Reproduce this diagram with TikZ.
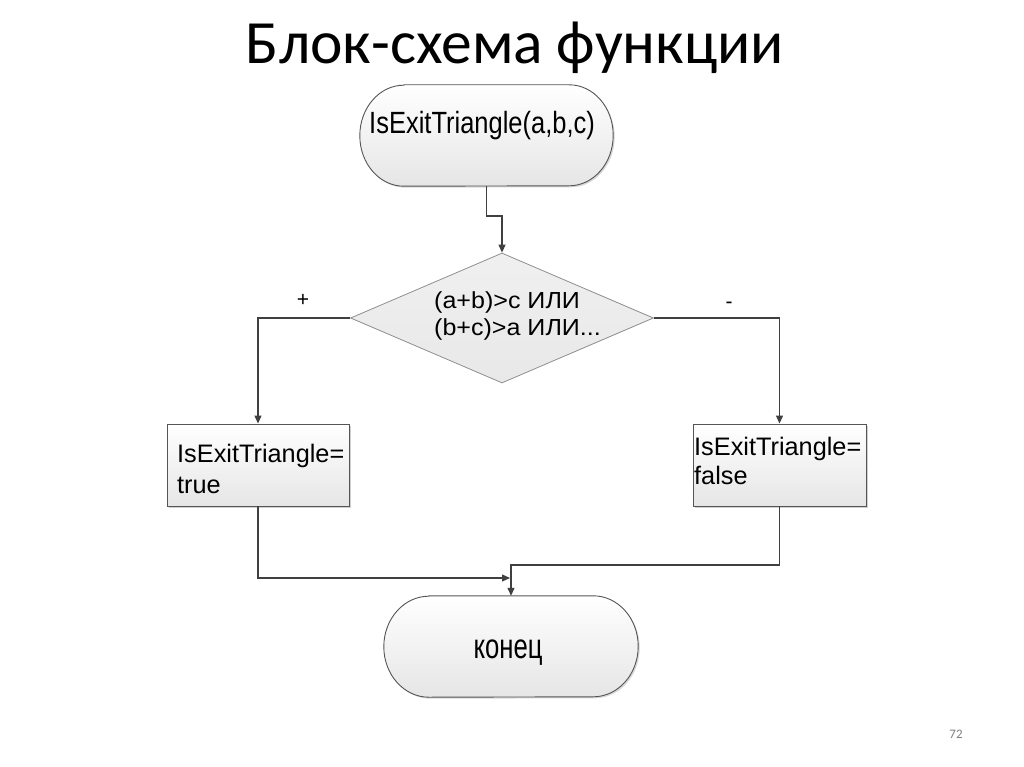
\documentclass[tikz,border=0pt]{standalone}
\usepackage{fontspec}
\setmainfont{Liberation Sans}
\newfontfamily\titlefont{Carlito}
\newfontfamily\startfont[FakeStretch=0.83]{Liberation Sans}
\newfontfamily\boxfont{Liberation Sans}
\newfontfamily\decfont[FakeStretch=1.08]{Liberation Sans}
\newfontfamily\endfont[FakeStretch=0.74]{Liberation Sans}
\usetikzlibrary{shapes.geometric,arrows.meta,shadows,calc}
\definecolor{linec}{HTML}{404040}
\definecolor{edgec}{HTML}{555555}
\definecolor{decedge}{HTML}{8E8E8E}
\tikzset{
  conn/.style={draw=linec, line width=1.1pt},
  arr/.style={conn, -{Triangle[length=8pt,width=7pt]}},
  termshape/.style={draw=edgec, line width=0.9pt, top color=white, bottom color=black!10,
    drop shadow={shadow xshift=1.5pt, shadow yshift=-1.5pt, opacity=0.25, fill=black!60}},
  frame/.style={inner sep=0pt, minimum width=#1, draw=none},
  procbox/.style={draw=edgec, line width=0.9pt, top color=white, bottom color=black!10,
    drop shadow={shadow xshift=1.5pt, shadow yshift=-1.5pt, opacity=0.3, fill=black!60},
    inner sep=0pt, minimum height=82pt},
  decision/.style={diamond, draw=decedge, line width=0.8pt, top color=black!6, bottom color=black!9,
    inner sep=0pt, aspect=2.33, minimum width=303pt, minimum height=130pt},
  txt/.style={inner sep=0pt, anchor=base west, text=black},
}
\begin{document}
\begin{tikzpicture}[x=1pt,y=-1pt]
\useasboundingbox (0,0) rectangle (1024,767);
\fill[white] (0,0) rectangle (1024,767);

% title
\node[inner sep=0pt, anchor=base] (title) at (515,64) {\titlefont\fontsize{61.5}{70}\selectfont Блок-схема функции};

% start terminal
\node[frame=253pt, minimum height=101pt] (start) at (486.5,135.5) {};
\path[termshape] ([xshift=44pt]start.north west) -- ([xshift=-44pt]start.north east)
  arc[start angle=90, end angle=-90, x radius=44pt, y radius=50.5pt]
  -- ([xshift=44pt]start.south west)
  arc[start angle=270, end angle=90, x radius=44pt, y radius=50.5pt] -- cycle;
\node[inner sep=0pt, anchor=base west] (starttxt) at (369,134) {\startfont\fontsize{30.7}{36}\selectfont IsExitTriangle(a,b,c)};

% decision
\node[decision] (dec) at (502,318) {};
\node[txt] (dec1) at (434,308) {\decfont\fontsize{23.2}{27}\selectfont (a+b)>c ИЛИ};
\node[txt] (dec2) at (434,335) {\decfont\fontsize{23.2}{27}\selectfont (b+c)>a ИЛИ...};

% boxes
\node[procbox, minimum width=182pt] (yes) at (258,465) {};
\node[txt] (yes1) at (177,462) {\boxfont\fontsize{25.3}{30}\selectfont IsExitTriangle=};
\node[txt] (yes2) at (177,493) {\boxfont\fontsize{25.3}{30}\selectfont true};

\node[procbox, minimum width=173pt] (no) at (779.5,465) {};
\node[txt] (no1) at (694,455) {\boxfont\fontsize{25.3}{30}\selectfont IsExitTriangle=};
\node[txt] (no2) at (694,484) {\boxfont\fontsize{25.3}{30}\selectfont false};

% labels
\node[inner sep=0pt, anchor=base] (plus) at (303,306.5) {\fontsize{21}{25}\selectfont +};
\node[inner sep=0pt, anchor=base] (minus) at (729,308) {\fontsize{21}{25}\selectfont -};

% end terminal
\node[frame=254pt, minimum height=101pt] (fin) at (511,646.5) {};
\path[termshape] ([xshift=45pt]fin.north west) -- ([xshift=-45pt]fin.north east)
  arc[start angle=90, end angle=-90, x radius=45pt, y radius=50.5pt]
  -- ([xshift=45pt]fin.south west)
  arc[start angle=270, end angle=90, x radius=45pt, y radius=50.5pt] -- cycle;
\node[inner sep=0pt, anchor=base] (fintxt) at (508,658) {\endfont\fontsize{34.7}{40}\selectfont конец};

% connectors
\coordinate (bend1) at (start.south |- 0,216);
\draw[arr] (start.south) -- (bend1) -| (dec.north);
\draw[arr] (dec.west) -| (yes.north);
\draw[arr] (dec.east) -| (no.north);
\coordinate (joinL) at (510,578);
\coordinate (joinR) at (fin.north |- 0,565);
\draw[arr] (yes.south) |- (joinL);
\draw[arr] (no.south) |- (joinR) -- (fin.north);

% page number
\node[inner sep=0pt, anchor=base] (page) at (956,738) {\titlefont\fontsize{13}{15}\selectfont\color{black!50}72};
\end{tikzpicture}
\end{document}
